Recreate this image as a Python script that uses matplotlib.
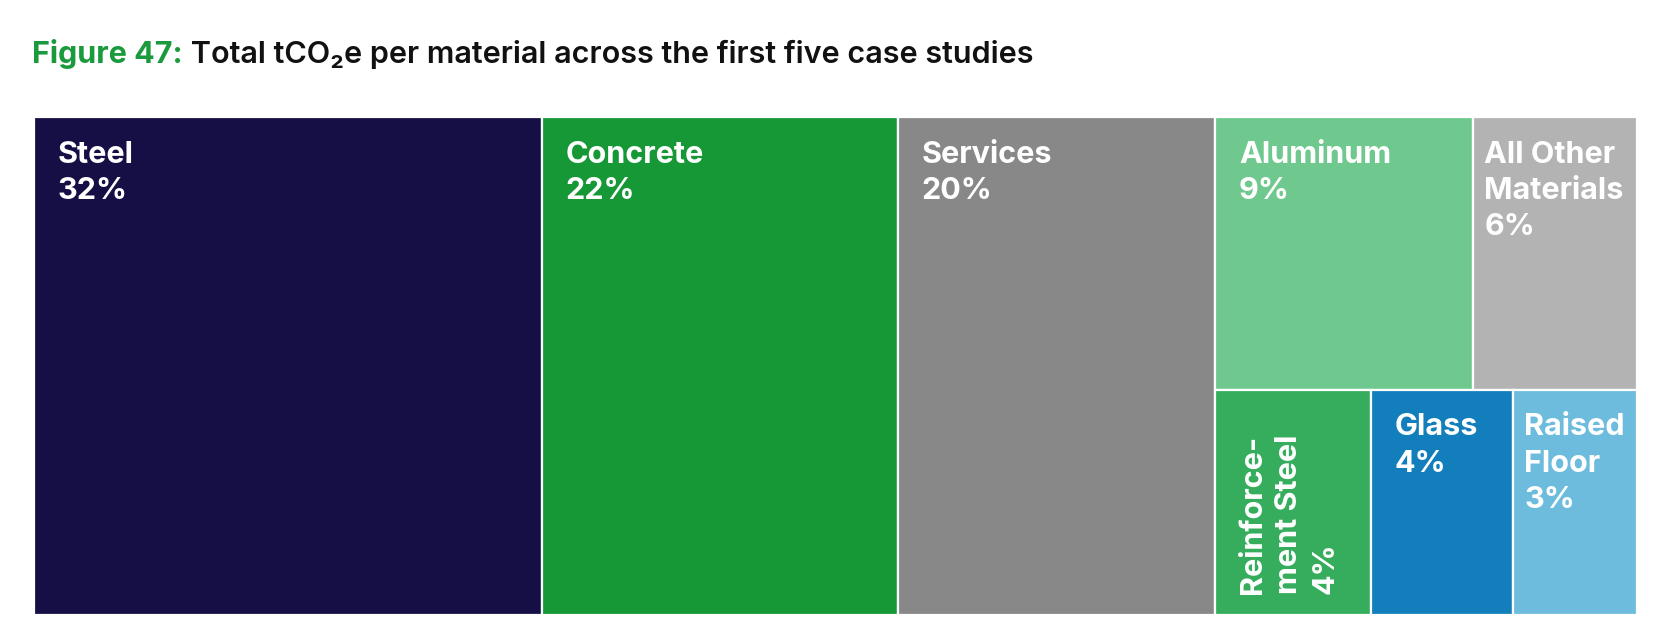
import matplotlib
matplotlib.use("Agg")
import matplotlib.pyplot as plt
from matplotlib.patches import Rectangle

# Datos (porcentajes)
materials = ["Steel", "Concrete", "Services", "Aluminum", "All Other\nMaterials",
             "Reinforce-\nment Steel", "Glass", "Raised\nFloor"]
shares = [31.7, 22.2, 19.8, 8.8, 5.6, 4.4, 4.0, 3.5]
labels_pct = ["32%", "22%", "20%", "9%", "6%", "4%", "4%", "3%"]
colors = ["#160f45", "#169836", "#888888", "#6fc98f", "#b3b3b3",
          "#36ad5d", "#127fbc", "#6dbcdd"]

# Estructura: 3 columnas completas, luego una columna con dos filas
full_cols = [0, 1, 2]
top_row = [3, 4]
bottom_row = [5, 6, 7]

plt.rcParams["font.family"] = ["Inter", "Liberation Sans", "DejaVu Sans"]

fig = plt.figure(figsize=(16.64, 6.38), dpi=100)
ax = fig.add_axes([34 / 1664, 23 / 638, 1603 / 1664, 498 / 638])
total = sum(shares)
ax.set_xlim(0, total)
ax.set_ylim(0, 1)
ax.axis("off")

rects = {}
x = 0.0
for i in full_cols:
    rects[i] = (x, 0.0, shares[i], 1.0)
    x += shares[i]

top_sum = sum(shares[i] for i in top_row)
bot_sum = sum(shares[i] for i in bottom_row)
top_h = top_sum / (top_sum + bot_sum)
xx = x
for i in top_row:
    w = shares[i] / top_h
    rects[i] = (xx, 1 - top_h, w, top_h)
    xx += w
xx = x
for i in bottom_row:
    w = shares[i] / (1 - top_h)
    rects[i] = (xx, 0.0, w, 1 - top_h)
    xx += w

fs = 22
for i, (rx, ry, rw, rh) in rects.items():
    ax.add_patch(Rectangle((rx, ry), rw, rh, facecolor=colors[i],
                           edgecolor="white", linewidth=1.6))
    txt = materials[i] + "\n" + labels_pct[i]
    if i == 5:
        # etiqueta vertical
        ax.annotate(txt, xy=(rx, ry), xytext=(17, 15), textcoords="offset points",
                    rotation=90, rotation_mode="anchor", ha="left", va="top",
                    color="white", fontsize=fs, fontweight="bold", linespacing=1.38)
    else:
        dx = 8 if i in (4, 7) else 17
        ax.annotate(txt, xy=(rx, ry + rh), xytext=(dx, -17), textcoords="offset points",
                    ha="left", va="top", color="white", fontsize=fs,
                    fontweight="bold", linespacing=1.38)

# Título
t1 = fig.text(32 / 1664, 1 - 63 / 638, "Figure 47:", color="#1a9a3c",
              fontsize=22, fontweight="bold", va="baseline")
ax.annotate(" Total tCO₂e per material across the first five case studies",
            xy=(1, 0), xycoords=t1, va="bottom", ha="left",
            fontsize=22, fontweight="semibold", color="#111111",
            annotation_clip=False)

fig.savefig("out.png", dpi=100)
